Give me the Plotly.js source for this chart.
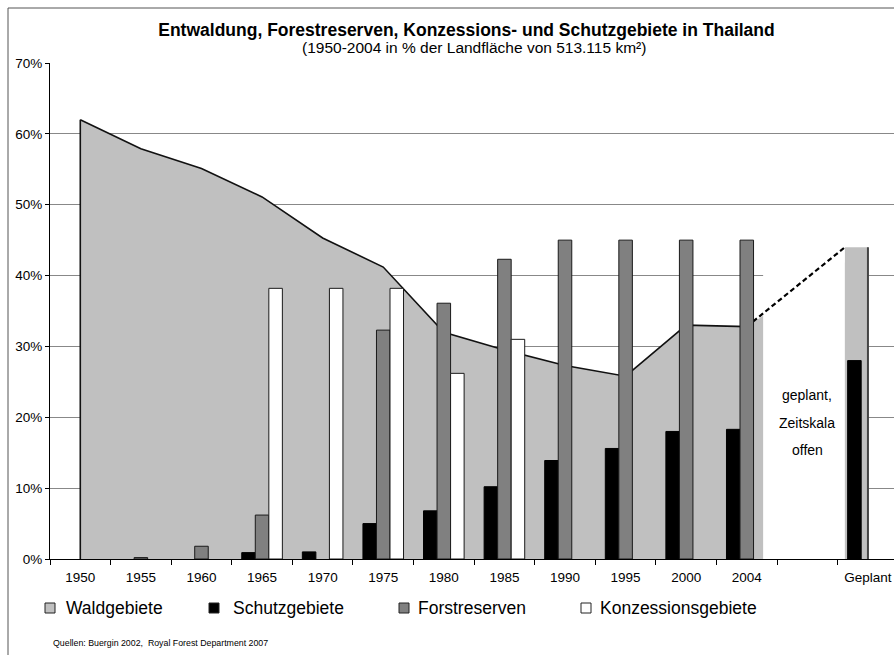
<!DOCTYPE html>
<html>
<head>
<meta charset="utf-8">
<script src="https://cdn.plot.ly/plotly-3.0.1.min.js"></script>
<style>html,body{margin:0;padding:0;background:#fff;}#chart{width:894px;height:655px;}</style>
</head>
<body>
<div id="chart"></div>
<script>
const categories = ['1950','1955','1960','1965','1970','1975','1980','1985','1990','1995','2000','2004',' ','Geplant'];
const waldgebiete = [62, 57.9, 55.1, 51.1, 45.3, 41.2, 32, 29.5, 27.3, 25.8, 33, 32.8, null, 44];
const schutzgebiete = [null, null, null, 0.9, 1.0, 5.0, 6.8, 10.2, 13.9, 15.6, 18.0, 18.3, null, 28.0];
const forstreserven = [null, 0.2, 1.8, 6.2, null, 32.3, 36.1, 42.3, 45, 45, 45, 45, null, null];
const konzessionsgebiete = [null, null, null, 38.2, 38.2, 38.2, 26.2, 31.0, null, null, null, null, null, null];
const seriesNames = ['Waldgebiete', 'Schutzgebiete', 'Forstreserven', 'Konzessionsgebiete'];
const titleText = 'Entwaldung, Forestreserven, Konzessions- und Schutzgebiete in Thailand';
const subtitleText = '(1950-2004 in % der Landfläche von 513.115 km²)';
const sourceText = 'Quellen: Buergin 2002,  Royal Forest Department 2007';
const noteLines = ['geplant,', 'Zeitskala', 'offen'];

const FONT = 'Arial, "Liberation Sans", Helvetica, sans-serif';
const colors = {wald: '#c0c0c0', schutz: '#000000', forst: '#808080', konz: '#ffffff'};
const xRange = [-0.5, 13.43];
const bandOffset = -0.38;
const lastHist = 11; // index of 2004
const planIdx = categories.indexOf('Geplant');

// area points (historic + planned)
const areaX = [], areaY = [];
waldgebiete.forEach((v, i) => { if (v !== null) { areaX.push(i); areaY.push(v); } });
const histX = [], histY = [];
waldgebiete.forEach((v, i) => { if (v !== null && i <= lastHist) { histX.push(i); histY.push(v); } });

const boxL = 11.27, boxR = planIdx + bandOffset;

const traces = [
  {type: 'scatter', x: areaX, y: areaY, xaxis: 'x', yaxis: 'y', mode: 'lines', fill: 'tozeroy',
   fillcolor: colors.wald, line: {width: 0, color: colors.wald}, hoverinfo: 'skip', showlegend: false},
  {type: 'scatter', x: [boxL, boxR, boxR, boxL], y: [0, 0, 46, 46], xaxis: 'x', yaxis: 'y', mode: 'lines',
   fill: 'toself', fillcolor: '#ffffff', line: {width: 0, color: '#ffffff'}, hoverinfo: 'skip', showlegend: false},
  {type: 'scatter', x: histX, y: histY, xaxis: 'x', yaxis: 'y', mode: 'lines',
   line: {width: 1.6, color: '#111'}, hoverinfo: 'skip', showlegend: false},
  {type: 'scatter', x: [lastHist, planIdx + bandOffset], y: [waldgebiete[lastHist], waldgebiete[planIdx]],
   xaxis: 'x', yaxis: 'y', mode: 'lines', line: {width: 2.2, color: '#000', dash: '5px,3px'}, hoverinfo: 'skip', showlegend: false},
  {type: 'bar', x: ['Geplant'], y: [waldgebiete[planIdx]], xaxis: 'x2', yaxis: 'y2', offset: bandOffset, width: -bandOffset,
   marker: {color: colors.wald, line: {width: 0}}, showlegend: false, hoverinfo: 'skip'},
  {type: 'bar', name: seriesNames[1], x: categories, y: schutzgebiete, xaxis: 'x2', yaxis: 'y2',
   marker: {color: colors.schutz, line: {width: 1, color: '#000'}}, showlegend: false},
  {type: 'bar', name: seriesNames[2], x: categories, y: forstreserven, xaxis: 'x2', yaxis: 'y2',
   marker: {color: colors.forst, line: {width: 1, color: '#1a1a1a'}}, showlegend: false},
  {type: 'bar', name: seriesNames[3], x: categories, y: konzessionsgebiete, xaxis: 'x2', yaxis: 'y2',
   marker: {color: colors.konz, line: {width: 1, color: '#1a1a1a'}}, showlegend: false}
];

// pixel helpers for paper coords (plot area: x 50..894, y 63..559)
const L = 50, T = 63, W = 844, H = 496;
const px = x => (x - L) / W;
const py = y => (T + H - y) / H;

const legendItems = [
  {name: seriesNames[0], color: colors.wald, sq: 45, tx: 64},
  {name: seriesNames[1], color: colors.schutz, sq: 209, tx: 231},
  {name: seriesNames[2], color: colors.forst, sq: 399, tx: 416},
  {name: seriesNames[3], color: colors.konz, sq: 581, tx: 598}
];
const legY = 608;

const shapes = [
  {type: 'rect', xref: 'paper', yref: 'paper', x0: px(8), x1: px(905), y0: py(665), y1: py(8),
   line: {color: '#555', width: 1}, fillcolor: 'rgba(0,0,0,0)', layer: 'below'},
  {type: 'line', xref: 'x', yref: 'y', x0: 0, x1: 0, y0: 0, y1: waldgebiete[0], line: {color: '#111', width: 1.6}},
  {type: 'line', xref: 'x', yref: 'y', x0: planIdx, x1: planIdx, y0: 0, y1: waldgebiete[planIdx], line: {color: '#444', width: 2}}
];
const annotations = [
  {text: subtitleText, xref: 'paper', yref: 'paper', x: px(474), y: py(48), xanchor: 'center', yanchor: 'middle',
   showarrow: false, font: {family: FONT, size: 15.5, color: '#000'}},
  {text: sourceText, xref: 'paper', yref: 'paper', x: px(51), y: py(643), xanchor: 'left', yanchor: 'middle',
   showarrow: false, font: {family: FONT, size: 8.8, color: '#000'}}
];
legendItems.forEach(it => {
  shapes.push({type: 'rect', xref: 'paper', yref: 'paper', x0: px(it.sq), x1: px(it.sq + 10), y0: py(legY + 5), y1: py(legY - 5),
    fillcolor: it.color, line: {color: '#222', width: 1}});
  annotations.push({text: it.name, xref: 'paper', yref: 'paper', x: px(it.tx), y: py(legY), xanchor: 'left', yanchor: 'middle',
    showarrow: false, font: {family: FONT, size: 17.5, color: '#000'}});
});
const noteY = [23.1, 19.2, 15.4];
noteLines.forEach((t, k) => {
  annotations.push({text: t, xref: 'x', yref: 'y', x: 12.0, y: noteY[k], xanchor: 'center', yanchor: 'middle',
    showarrow: false, font: {family: FONT, size: 14, color: '#000'}});
});

const tickFont = {family: FONT, size: 13.5, color: '#000'};
const layout = {
  width: 894, height: 655,
  margin: {l: L, r: 0, t: T, b: 655 - T - H, pad: 0},
  paper_bgcolor: '#fff', plot_bgcolor: '#fff',
  title: {text: '<b>' + titleText + '</b>', font: {family: FONT, size: 17.5, color: '#000'},
          xref: 'paper', x: px(466.5), xanchor: 'center', yref: 'container', y: 1 - 30 / 655, yanchor: 'middle'},
  showlegend: false,
  barmode: 'group', bargap: 0.33, bargroupgap: 0,
  xaxis: {range: xRange, visible: false, fixedrange: true},
  yaxis: {range: [0, 70], dtick: 10, ticksuffix: '%', ticks: 'outside', ticklen: 4, tickcolor: '#000',
          showline: true, linecolor: '#000', linewidth: 1, showgrid: true, gridcolor: '#888', gridwidth: 1,
          zeroline: false, tickfont: tickFont},
  xaxis2: {type: 'category', overlaying: 'x', anchor: 'y', range: xRange, categoryorder: 'array', categoryarray: categories,
           tickson: 'boundaries', ticks: 'outside', ticklen: 5, tickcolor: '#000', showline: true, linecolor: '#000',
           linewidth: 1, showgrid: false, zeroline: false, tickfont: tickFont, ticklabelstandoff: 6},
  yaxis2: {overlaying: 'y', anchor: 'x2', range: [0, 70], visible: false},
  shapes: shapes,
  annotations: annotations
};

Plotly.newPlot('chart', traces, layout, {displayModeBar: false, staticPlot: true});
</script>
</body>
</html>
